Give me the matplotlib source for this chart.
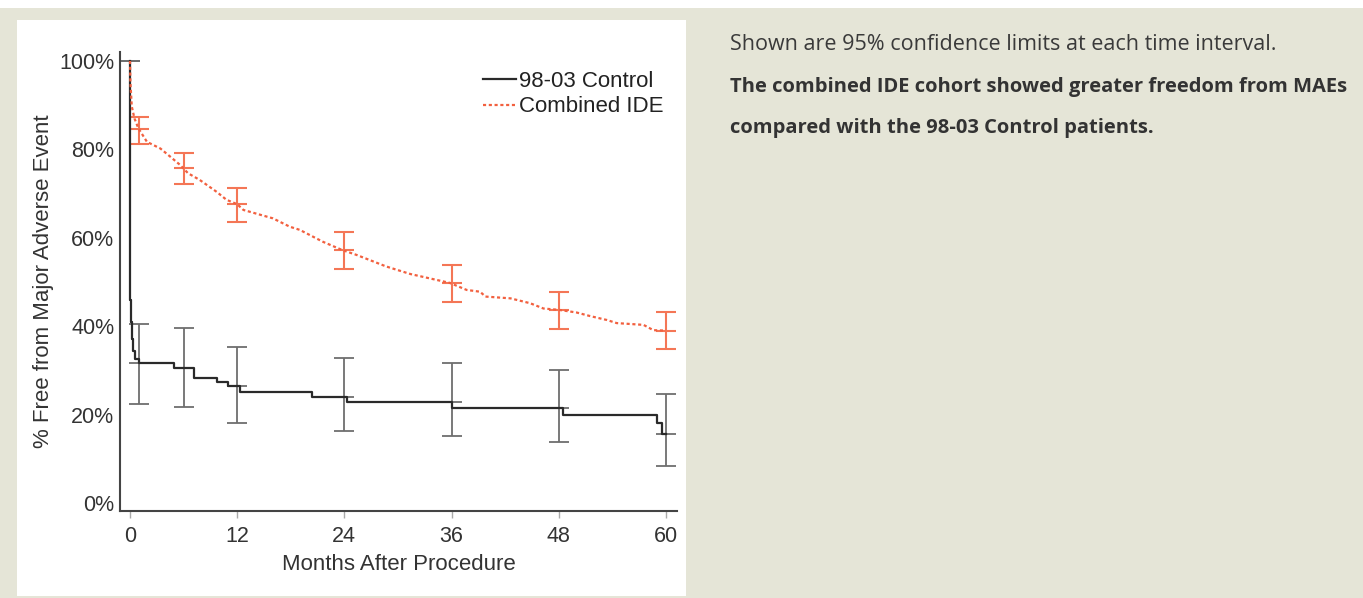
import matplotlib.pyplot as plt
from matplotlib.patches import Rectangle

# Kaplan-Meier style curves (months, % free from MAE)
control_t = [0, 0.05, 0.1, 0.2, 0.35, 0.6, 1.0, 4.9, 7.2, 9.7, 11.0, 12.3, 20.4, 24.3, 36.1, 48.5, 59.0, 59.6, 60.0]
control_s = [100, 46, 41, 37, 34.5, 32.5, 31.6, 30.5, 28.3, 27.4, 26.5, 25.2, 24.0, 22.9, 21.4, 19.8, 18.0, 15.6, 15.6]

ide_t = [0, 0.05, 0.2, 0.5, 0.93, 1.9, 3.4, 4.3, 5.6, 6.5, 7.8, 9.7, 10.8, 12.0, 12.7, 14.6, 16.0,
         17.9, 19.0, 21.6, 23.8, 25.4, 28.7, 31.4, 35.8, 37.7, 39.2, 39.8, 42.6, 44.8, 46.3, 48.0,
         50.0, 51.5, 53.4, 54.5, 57.5, 58.6, 60.0]
ide_s = [100, 95, 89.7, 87, 84.8, 81.7, 80.2, 78.7, 76.5, 74.6, 73.1, 70.4, 68.6, 67.6, 66.3, 65.2, 64.4,
         62.5, 61.8, 59.1, 57.2, 56.1, 53.5, 51.8, 49.8, 48.2, 47.8, 46.7, 46.3, 45.2, 44.0, 43.7,
         43.1, 42.3, 41.4, 40.7, 40.3, 39.1, 39.0]

# 95% confidence limits at each interval
ci_t = [0, 1, 6, 12, 24, 36, 48, 60]
control_est = [100, 31.6, 30.5, 26.5, 24.0, 22.9, 21.4, 15.5]
control_lo = [100, 22.5, 21.7, 18.2, 16.3, 15.2, 13.9, 8.4]
control_hi = [100, 40.6, 39.5, 35.2, 32.9, 31.6, 30.1, 24.7]

ide_ci_t = [1, 6, 12, 24, 36, 48, 60]
ide_est = [84.5, 75.9, 67.6, 57.2, 49.7, 43.7, 39.0]
ide_lo = [81.2, 72.2, 63.6, 52.9, 45.5, 39.4, 34.8]
ide_hi = [87.3, 79.1, 71.3, 61.2, 53.8, 47.8, 43.3]

xticks = [0, 12, 24, 36, 48, 60]
yticks = [0, 20, 40, 60, 80, 100]
ytick_labels = ['0%', '20%', '40%', '60%', '80%', '100%']

note = "Shown are 95% confidence limits at each time interval."
finding = ["The combined IDE cohort showed greater freedom from MAEs",
           "compared with the 98-03 Control patients."]

W, H = 1363, 598
bg = '#e5e5d7'
grey_bar = '#6e6e6e'
orange = '#f2603f'
orange_bar = '#f47656'

plt.rcParams['font.family'] = ['Liberation Sans', 'DejaVu Sans']

fig = plt.figure(figsize=(W / 100, H / 100), dpi=100, facecolor=bg)
fig.patches.append(Rectangle((16.5 / W, 1 - 596 / H), 669 / W, 576 / H,
                             transform=fig.transFigure, facecolor='white', edgecolor='none', zorder=-1))
fig.patches.append(Rectangle((0, 1 - 8 / H), 1, 8 / H,
                             transform=fig.transFigure, facecolor='white', edgecolor='none', zorder=-1))

ax = fig.add_axes([120 / W, 1 - 511 / H, 557 / W, 459.3 / H])
ax.set_facecolor('none')

# confidence bars with a tick at the estimate
def ci_bars(t, est, lo, hi, color, lw):
    yerr = [[e - l for e, l in zip(est, lo)], [h - e for e, h in zip(est, hi)]]
    ax.errorbar(t, est, yerr=yerr, fmt='none', ecolor=color, elinewidth=lw,
                capsize=7.2, capthick=lw, zorder=2)
    ax.plot(t, est, linestyle='none', marker='_', markersize=14.4,
            markeredgewidth=lw, color=color, zorder=2)

ci_bars(ci_t, control_est, control_lo, control_hi, grey_bar, 1.3)
ci_bars(ide_ci_t, ide_est, ide_lo, ide_hi, orange_bar, 1.5)

ax.plot(control_t, control_s, drawstyle='steps-post', color='#2a2a2a', lw=1.6,
        label='98-03 Control', zorder=3)
ax.plot(ide_t, ide_s, color=orange, lw=1.6, linestyle=(0, (1.4, 1.2)),
        label='Combined IDE', zorder=3)

ax.set_xlim(-1.12, 61.25)
ax.set_ylim(-1.81, 102.1)
ax.set_xticks(xticks)
ax.set_yticks(yticks)
ax.set_yticklabels(ytick_labels)

for side in ('top', 'right'):
    ax.spines[side].set_visible(False)
for side in ('left', 'bottom'):
    ax.spines[side].set_color('#444444')
    ax.spines[side].set_linewidth(1.5)

ax.tick_params(axis='x', length=5, width=1, color='#aaaaaa', pad=6, labelsize=15.5, labelcolor='#333333')
ax.tick_params(axis='y', length=0, pad=4, labelsize=15.5, labelcolor='#333333')

ax.set_xlabel('Months After Procedure', fontsize=16, color='#333333', labelpad=5)
ax.set_ylabel('% Free from Major Adverse Event', fontsize=16, color='#333333', labelpad=4)

leg = ax.legend(loc='upper right', bbox_to_anchor=(0.975, 0.958), frameon=False,
                fontsize=16, handlelength=1.5, handletextpad=0.1, labelspacing=0.2,
                borderaxespad=0, borderpad=0)
for txt in leg.get_texts():
    txt.set_color('#222222')

fig.text(730 / W, 1 - 44 / H, note, fontsize=15.5, family='Open Sans', color='#3a3a3a', va='center')
fig.text(730 / W, 1 - 87 / H, finding[0], fontsize=14.5, family='Open Sans', fontweight='bold',
         color='#333333', va='center')
fig.text(730 / W, 1 - 128 / H, finding[1], fontsize=14.5, family='Open Sans', fontweight='bold',
         color='#333333', va='center')

fig.savefig('out.png', dpi=100, facecolor=bg)
